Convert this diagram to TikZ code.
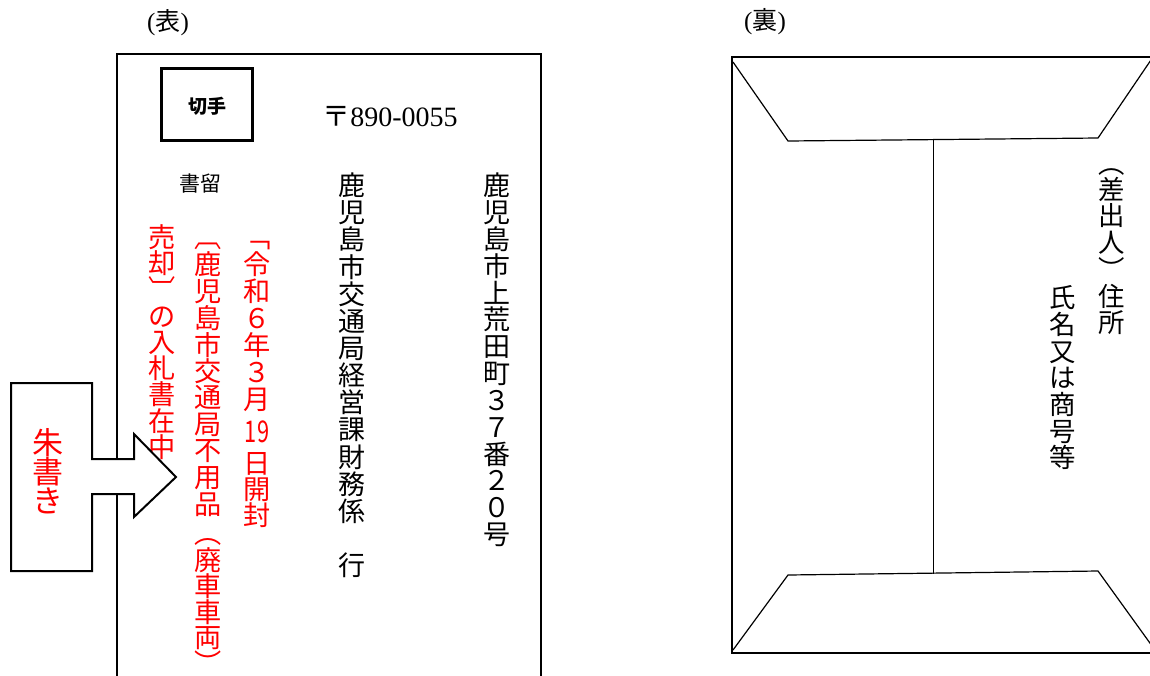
\documentclass[tikz,border=0pt]{standalone}
\usepackage{fontspec}
\setmainfont{Liberation Serif}
\newfontfamily\jpfont{Noto Sans CJK JP}
\usepackage{graphicx}
\usetikzlibrary{positioning}

\begin{document}
\begin{tikzpicture}[x=0.5pt, y=-0.5pt,
  outline/.style={line width=1pt},
  flap/.style={line width=0.6pt},
  tate/.style={inner sep=0pt, text height=0.88em, text depth=0.12em, font=\jpfont\fontsize{13.5}{13.5}\selectfont},
  akaji/.style={tate, text=red, font=\jpfont\fontsize{13.6}{13.6}\selectfont},
  urate/.style={tate, font=\jpfont\fontsize{13.2}{13.2}\selectfont}]
  \useasboundingbox (0,0) rectangle (1150,675);
  \clip (0,0) rectangle (1150,675);

  % Front side
  \node[font=\fontsize{12.5}{12.5}\selectfont] (omote) at (168,23) {({\jpfont 表})};
  \draw[outline] (117,690) -- (117,54) -- (541,54) -- (541,690);
  \draw[line width=1.5pt] (161,68) rectangle (252,140);
  \node[font=\jpfont\bfseries\fontsize{9.5}{9.5}\selectfont] (kitte) at (207,106) {切手};
  \node[font=\fontsize{14}{14}\selectfont] (yubin) at (390,117) {{\jpfont 〒}890-0055};
  \node[font=\jpfont\fontsize{10.5}{10.5}\selectfont] (kakitome) at (200,184) {書留};

  % Addresses (vertical)
  \foreach \c [count=\i from 0] in {鹿,児,島,市,上,荒,田,町,３,７,番,２,０,号}
    \node[tate] (jusho-\i) at (497,{188+26.85*\i}) {\c};
  \foreach \c [count=\i from 0] in {鹿,児,島,市,交,通,局,経,営,課,財,務,係}
    \node[tate] (atesaki-\i) at (352,{188+27.14*\i}) {\c};
  \node[tate] (yuki) at (352,568) {行};

  % Red notes
  \foreach \c/\y [count=\i] in {﹁/240,令/267,和/294,６/321,年/348,３/375,月/402,日/466,開/492,封/518}
    \node[akaji] (kaifu-\i) at (257,\y) {\c};
  \node[akaji] (kaifu-day) at (257,435) {\scalebox{0.8}[1.1]{19}};
  \foreach \c/\y [count=\i] in {︹/240,鹿/267,児/294,島/321,市/348,交/374,通/400,局/427,不/453,用/480,品/507,︵/536,廃/563,車/589,車/615,両/640,︶/666}
    \node[akaji] (kenmei-\i) at (208,\y) {\c};
  \foreach \c/\y [count=\i] in {売/240,却/266,︺/292,の/319,入/345,札/371,書/397,在/424,中/450}
    \node[akaji] (zaichu-\i) at (162,\y) {\c};

  % Arrow
  \draw[outline, fill=white] (11,383) -- (92,383) -- (92,459) -- (134,459) -- (134,434)
    -- (176,477) -- (134,517) -- (134,494) -- (92,494) -- (92,571) -- (11,571) -- cycle;
  \foreach \c/\y [count=\i] in {朱/447,書/476,き/505}
    \node[akaji, font=\jpfont\fontsize{15.5}{15.5}\selectfont] (shugaki-\i) at (48,\y) {\c};

  % Back side
  \node[font=\fontsize{12.5}{12.5}\selectfont] (ura) at (765,22) {({\jpfont 裏})};
  \draw[outline] (1170,57) -- (732,57) -- (732,653) -- (1170,653);
  \draw[flap] (733,62) -- (788,141) -- (1098,138) -- (1155,54);
  \draw[flap] (733,650) -- (788,575) -- (1098,571) -- (1160,657);
  \draw[line width=0.5pt] (933,140) -- (933,574);
  \foreach \c/\y [count=\i] in {︵/166,差/192,出/218,人/245,︶/272,住/299,所/325}
    \node[urate] (sashidashi-\i) at (1112,\y) {\c};
  \foreach \c [count=\i from 0] in {氏,名,又,は,商,号,等}
    \node[urate] (shimei-\i) at (1063,{300+26.7*\i}) {\c};
\end{tikzpicture}
\end{document}
